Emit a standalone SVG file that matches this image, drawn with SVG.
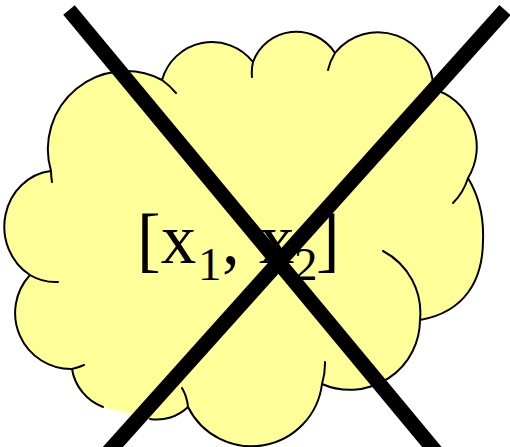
<svg xmlns="http://www.w3.org/2000/svg" width="510" height="447" viewBox="0 0 510 447">
<style>
.fill{fill:#FFFF99;stroke:none}
.edge{fill:none;stroke:#000;stroke-width:2;stroke-linecap:round}
.t{font-family:"Liberation Serif","Times New Roman",serif;fill:#000}
.x{stroke:#000;stroke-width:15;stroke-linecap:butt}
</style>
<rect width="510" height="447" fill="#fff"/>
<g id="cloud">
<path class="fill" d="M51,171 A78 78 0 0 1 162,80 A52 52 0 0 1 253,62 A46 46 0 0 1 335,53 A55 55 0 0 1 433,89 A60 60 0 0 1 468,178 C477,193 484,215 483,240 C483,280 465,312 420,320 A70 70 0 0 1 322,384 A71 71 0 0 1 188,407 A45 45 0 0 1 150,419 L103,407 A49 49 0 0 1 72,369 A56 56 0 0 1 30,275 A52 56 0 0 1 51,171 Z"/>
<path class="edge" d="M52,182 A78 78 0 0 1 51,171 A78 78 0 0 1 162,80 A78 78 0 0 1 176,93
M162,80 A52 52 0 0 1 253,62
M252,77 A46 46 0 0 1 253,62 A46 46 0 0 1 335,53
M328,70 A55 55 0 0 1 335,53 A55 55 0 0 1 433,89
M433,89 A60 60 0 0 1 468,178 A60 60 0 0 1 453,203
M468,178 C477,193 484,215 483,240 C483,280 465,312 420,320
M383,251 A70 70 0 0 1 420,320 A70 70 0 0 1 322,384
M325,362 A71 71 0 0 1 322,384 A71 71 0 0 1 188,407
M182,388 A45 45 0 0 1 188,407 A45 45 0 0 1 150,419
M103,407 A49 49 0 0 1 72,369
M84,365 A56 56 0 0 1 72,369 A56 56 0 0 1 30,275
M58,282 A52 56 0 0 1 30,275 A52 56 0 0 1 51,171"/>
<text class="t" font-size="71" y="263"><tspan x="137">[x</tspan><tspan x="198" y="280" font-size="47">1</tspan><tspan x="222" y="263">,</tspan><tspan x="259">x</tspan><tspan x="294" y="280" font-size="47">2</tspan><tspan x="316" y="263">]</tspan></text>
</g>
<g id="cross">
<line class="x" x1="69" y1="10" x2="441" y2="458"/>
<line class="x" x1="505" y1="10" x2="103" y2="458"/>
</g>
</svg>
